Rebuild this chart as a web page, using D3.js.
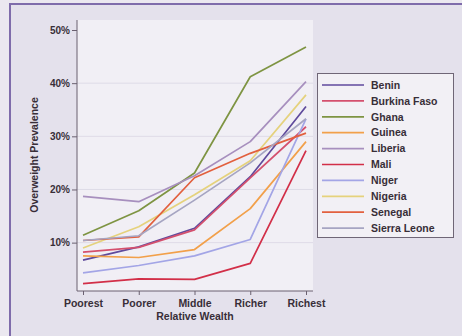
<!DOCTYPE html>
<html>
<head>
<meta charset="utf-8">
<script src="https://cdn.jsdelivr.net/npm/d3@7"></script>
<style>
  html, body { margin: 0; padding: 0; background: #ebe8f0; }
  svg { display: block; }
  text { font-family: "Liberation Sans", Arial, sans-serif; fill: #382e38; }
</style>
</head>
<body>
<svg id="chart" width="462" height="336"></svg>
<script>
// Overweight prevalence by relative wealth quintile, per country
const wealthGroups = ["Poorest", "Poorer", "Middle", "Richer", "Richest"];
const countries = ["Benin", "Burkina Faso", "Ghana", "Guinea", "Liberia", "Mali", "Niger", "Nigeria", "Senegal", "Sierra Leone"];
const benin       = [0.067, 0.092, 0.127, 0.224, 0.356];
const burkinaFaso = [0.082, 0.091, 0.124, 0.222, 0.318];
const ghana       = [0.114, 0.160, 0.231, 0.412, 0.468];
const guinea      = [0.075, 0.072, 0.087, 0.164, 0.290];
const liberia     = [0.187, 0.177, 0.226, 0.290, 0.403];
const mali        = [0.023, 0.032, 0.031, 0.061, 0.273];
const niger       = [0.043, 0.057, 0.075, 0.106, 0.333];
const nigeria     = [0.090, 0.130, 0.190, 0.254, 0.378];
const senegal     = [0.104, 0.111, 0.222, 0.268, 0.306];
const sierraLeone = [0.104, 0.113, 0.180, 0.250, 0.333];
const seriesValues = [benin, burkinaFaso, ghana, guinea, liberia, mali, niger, nigeria, senegal, sierraLeone];
const seriesColors = ["#5f4a9c", "#d4506e", "#7e9442", "#f2a04a", "#a78fbe", "#d22f48", "#a3a5e6", "#e5d27c", "#e2603e", "#a6a5c2"];
const yTicks = [0.1, 0.2, 0.3, 0.4, 0.5];

const svg = d3.select("#chart");

// Outer frame (only top/left edges fall inside the view)
svg.append("rect").attr("x", 10).attr("y", 4).attr("width", 470).attr("height", 350)
  .attr("fill", "#e4e1ec").attr("stroke", "#7f6cab").attr("stroke-width", 2);

const panel = { left: 77, right: 313, top: 20, bottom: 291 };
svg.append("rect")
  .attr("x", panel.left).attr("y", panel.top)
  .attr("width", panel.right - panel.left).attr("height", panel.bottom - panel.top)
  .attr("fill", "#f1eff5");

const x = d3.scalePoint().domain(wealthGroups).range([83, 306]);
const y = d3.scaleLinear().domain([0, 0.5]).range([295.8, 30]);

// Gridlines
svg.append("g").selectAll("line").data(yTicks.slice(0, 4)).join("line")
  .attr("x1", panel.left).attr("x2", panel.right)
  .attr("y1", d => y(d)).attr("y2", d => y(d))
  .attr("stroke", "#dedbe7").attr("stroke-width", 1);

// Axes
const yAxis = svg.append("g").attr("transform", `translate(${panel.left},0)`)
  .call(d3.axisLeft(y).tickValues(yTicks).tickFormat(d3.format(".0%")).tickSize(5).tickPadding(2));
yAxis.select(".domain").remove();
yAxis.selectAll("line").attr("stroke", "#6a6070");
yAxis.selectAll("text").style("font-size", "10px").style("font-weight", "bold").attr("fill", "#382e38");
svg.append("line").attr("x1", panel.left).attr("x2", panel.left)
  .attr("y1", panel.top).attr("y2", panel.bottom).attr("stroke", "#6a6070");

const xAxis = svg.append("g").attr("transform", `translate(0,${panel.bottom})`)
  .call(d3.axisBottom(x).tickSize(4).tickPadding(5));
xAxis.select(".domain").remove();
xAxis.selectAll("line").attr("stroke", "#6a6070");
xAxis.selectAll("text").style("font-size", "10.5px").style("font-weight", "bold").attr("fill", "#382e38");
svg.append("line").attr("x1", panel.left).attr("x2", panel.right)
  .attr("y1", panel.bottom).attr("y2", panel.bottom).attr("stroke", "#6a6070");

// Axis titles
svg.append("text").attr("x", 195).attr("y", 320).attr("text-anchor", "middle")
  .style("font-size", "10.5px").style("font-weight", "bold").text("Relative Wealth");
svg.append("text").attr("transform", "translate(38,155) rotate(-90)").attr("text-anchor", "middle")
  .style("font-size", "10.5px").style("font-weight", "bold").text("Overweight Prevalence");

// Series lines
const line = d3.line().x((d, i) => x(wealthGroups[i])).y(d => y(d));
svg.append("g").selectAll("path").data(seriesValues).join("path")
  .attr("d", line).attr("fill", "none")
  .attr("stroke", (d, i) => seriesColors[i]).attr("stroke-width", 1.7)
  .attr("stroke-linejoin", "round");

// Legend
const legend = svg.append("g");
legend.append("rect").attr("x", 317.5).attr("y", 73.5).attr("width", 136).attr("height", 164)
  .attr("fill", "#f2f0f5").attr("stroke", "#6f6676").attr("stroke-width", 1);
const rows = legend.selectAll("g.row").data(countries).join("g")
  .attr("transform", (d, i) => `translate(0,${85 + i * 15.9})`);
rows.append("line").attr("x1", 322).attr("x2", 364)
  .attr("stroke", (d, i) => seriesColors[i]).attr("stroke-width", 1.7);
rows.append("text").attr("x", 371).attr("y", 3.7)
  .style("font-size", "10.5px").style("font-weight", "bold").text(d => d);
</script>
</body>
</html>
